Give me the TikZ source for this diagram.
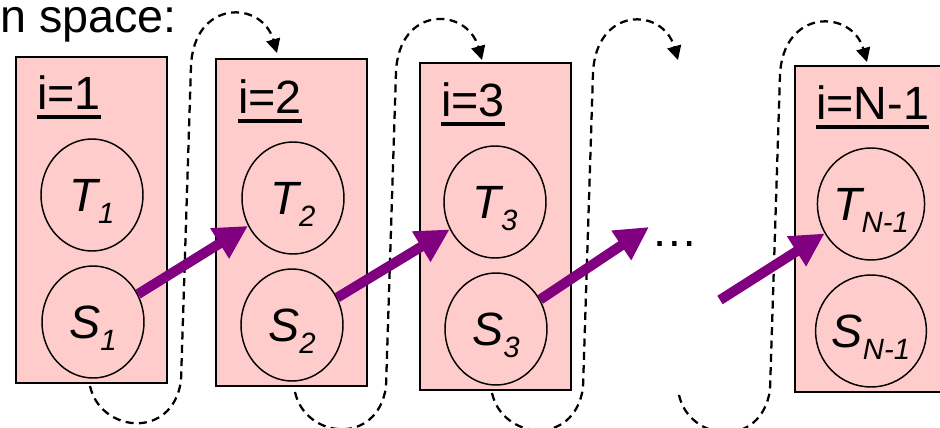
\documentclass[tikz,border=0pt]{standalone}
\usepackage{fontspec}
\setmainfont{Liberation Sans}
\usetikzlibrary{arrows.meta,shapes.geometric}
\definecolor{boxpink}{HTML}{FFCCCC}
\definecolor{arrowpurple}{HTML}{800080}
\newcommand{\subtxt}[1]{\raisebox{-9pt}{\fontsize{22pt}{22pt}\selectfont #1}}
\begin{document}
\begin{tikzpicture}[x=0.75pt,y=-0.75pt,
  stagebox/.style={draw=black, line width=1.5pt, fill=boxpink, minimum width=113.25pt, minimum height=245pt, inner sep=0pt},
  var/.style={draw=black, line width=1.1pt, ellipse, minimum width=76.5pt, minimum height=84pt, inner sep=0pt, text depth=0pt, font=\fontsize{35pt}{42pt}\selectfont\itshape},
  lab/.style={anchor=base west, inner sep=0pt, font=\fontsize{35pt}{42pt}\selectfont},
  uline/.style={line width=2.4pt},
  flow/.style={arrowpurple, line width=7.5pt, -{Triangle[length=25pt,width=25pt]}},
  loopline/.style={black, line width=1.7pt, dash pattern=on 6pt off 4pt, -{Triangle[length=10.5pt,width=10.5pt]}}
]
\clip (0,0) rectangle (940,428);

\node[lab] (title) at (0,33) {n space:};

\node[stagebox] (b1) at (91,220) {};
\node[stagebox] (b2) at (291,222.5) {};
\node[stagebox] (b3) at (495,226.5) {};
\node[stagebox] (bn) at (870,229) {};

\node[lab] (l1) at (37,110) {i=1};
\node[lab] (l2) at (238,114) {i=2};
\node[lab] (l3) at (441,117) {i=3};
\node[lab] (ln) at (816,120) {i=N-1};
\foreach \l in {l1,l2,l3,ln}
  \draw[uline] ([yshift=-5.25pt]\l.base west) -- ([yshift=-5.25pt]\l.base east);

\node[var] (t1) at (92,195) {T\subtxt{1}};
\node[var] (s1) at (93,322) {S\subtxt{1}};
\node[var] (t2) at (293,198) {T\subtxt{2}};
\node[var] (s2) at (292,325) {S\subtxt{2}};
\node[var] (t3) at (495,202) {T\subtxt{3}};
\node[var] (s3) at (496,329) {S\subtxt{3}};
\node[var] (tn) at (871,204) {T\subtxt{N-1}};
\node[var] (sn) at (871,331) {S\subtxt{N-1}};

\node[lab] (dots) at (651,246) {…};

\coordinate (c1s) at (90,386);  \coordinate (c1e) at (277,53);
\coordinate (c2s) at (295,392); \coordinate (c2e) at (482,60);
\coordinate (c3s) at (492,393); \coordinate (c3e) at (678,60);
\coordinate (c4s) at (679,395); \coordinate (c4e) at (867,62);
\foreach \s/\e in {c1s/c1e,c2s/c2e,c3s/c3e,c4s/c4e}
  \draw[loopline] (\s) .. controls +(10,46) and +(-9,60) .. ++(91,-5) -- ++(10,-315)
     .. controls +(3,-67) and +(-15,-53) .. (\e);

\coordinate (a3e) at (649,227);
\coordinate (a4s) at (720,300);
\draw[flow] (s1) -- (t2);
\draw[flow] (s2) -- (t3);
\draw[flow] (s3) -- (a3e);
\draw[flow] (a4s) -- (tn);
\end{tikzpicture}
\end{document}
